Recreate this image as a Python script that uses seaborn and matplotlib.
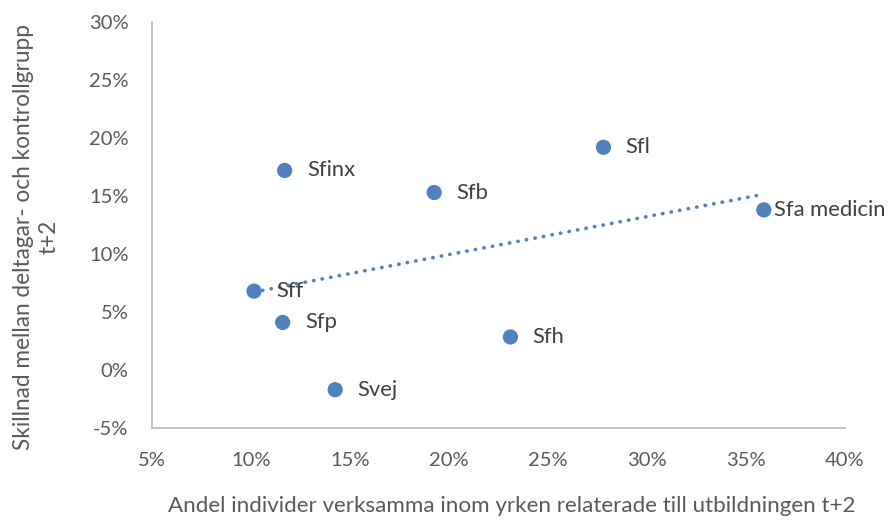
import numpy as np
import pandas as pd
import matplotlib
matplotlib.use("Agg")
import matplotlib.pyplot as plt
import seaborn as sns
from matplotlib.ticker import FuncFormatter, MultipleLocator

# --- data --- #
programs = ["Sff", "Sfp", "Svej", "Sfinx", "Sfb", "Sfh", "Sfl", "Sfa medicin"]
share_related = [10.15, 11.6, 14.25, 11.7, 19.25, 23.1, 27.8, 35.9]
diff_groups = [6.8, 4.1, -1.7, 17.2, 15.3, 2.85, 19.2, 13.8]

xlabel = "Andel individer verksamma inom yrken relaterade till utbildningen t+2"
ylabel = "Skillnad mellan deltagar- och kontrollgrupp\nt+2"

# --- style --- #
sns.set_style("white")
plt.rcParams["font.family"] = ["Lato", "DejaVu Sans"]
BLUE = "#4F81BD"
TICK_GRAY = "#595959"
TEXT_GRAY = "#404040"
SPINE_GRAY = "#BFBFBF"

df = pd.DataFrame({"program": programs, "x": share_related, "y": diff_groups})

fig = plt.figure(figsize=(8.88, 5.24), dpi=100)
ax = fig.add_axes([0.1712, 0.1832, 0.7804, 0.7748])

# linear trendline through the points
k, m = np.polyfit(df["x"], df["y"], 1)
tx = np.array([df["x"].min(), df["x"].max()])
ax.plot(tx, k * tx + m, color=BLUE, lw=2.6, linestyle=(0, (0.1, 2.3)),
        dash_capstyle="round", zorder=2)

sns.scatterplot(data=df, x="x", y="y", ax=ax, color=BLUE, s=120,
                edgecolor="none", zorder=3, legend=False)

# data labels to the right of each point
label_offset = {"Sfa medicin": 7}
for _, r in df.iterrows():
    ax.annotate(r["program"], (r["x"], r["y"]),
                xytext=(label_offset.get(r["program"], 16), 0),
                textcoords="offset points", va="center", ha="left",
                fontsize=15.8, color=TEXT_GRAY)

pct = FuncFormatter(lambda v, _: f"{v:.0f}%")
ax.set_xlim(5, 40)
ax.set_ylim(-5, 30)
ax.xaxis.set_major_locator(MultipleLocator(5))
ax.yaxis.set_major_locator(MultipleLocator(5))
ax.xaxis.set_major_formatter(pct)
ax.yaxis.set_major_formatter(pct)
ax.tick_params(axis="both", length=0, labelsize=14.5, labelcolor=TICK_GRAY)
ax.tick_params(axis="x", pad=17)
ax.tick_params(axis="y", pad=17)

for side in ["top", "right"]:
    ax.spines[side].set_visible(False)
for side in ["left", "bottom"]:
    ax.spines[side].set_color(SPINE_GRAY)
    ax.spines[side].set_linewidth(1.3)

ax.set_xlabel(xlabel, fontsize=16.1, color=TICK_GRAY)
ax.xaxis.set_label_coords(0.519, -0.168)
ax.set_ylabel(ylabel, fontsize=16.3, color=TICK_GRAY, linespacing=1.28)
ax.yaxis.set_label_coords(-0.133, 0.47)

fig.savefig("out.png", dpi=100)
